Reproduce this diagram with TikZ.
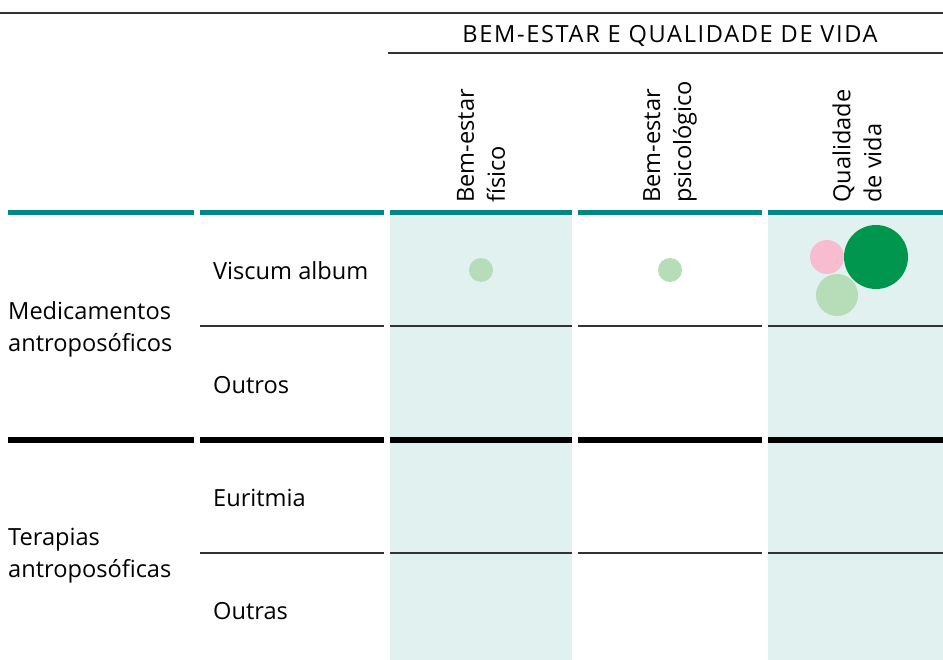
\documentclass[tikz,border=0pt]{standalone}
\usepackage{fontspec}
\setmainfont{Open Sans}
\newfontfamily\headfont[LetterSpace=7]{Open Sans}

\definecolor{rulegray}{RGB}{51,51,51}
\definecolor{tealrule}{RGB}{0,137,132}
\definecolor{cellbg}{RGB}{225,241,240}
\definecolor{dotlight}{RGB}{182,221,184}
\definecolor{dotdark}{RGB}{0,150,78}
\definecolor{dotpink}{RGB}{247,188,208}

\begin{document}
\begin{tikzpicture}[x=1pt, y=-1pt,
    rowtext/.style={anchor=west, inner sep=0pt, align=left, font=\fontsize{23.6}{32}\selectfont}, % text of the rows
    colhead/.style={rotate=90, anchor=west, inner sep=0pt, align=left, font=\fontsize{23.6}{31}\selectfont},
    thinrule/.style={draw=rulegray, line width=1.6pt},
    tealbar/.style={draw=tealrule, line width=5pt},
    blackbar/.style={draw=black, line width=5.5pt}
  ]
  \useasboundingbox (0,0) rectangle (943,660);

  % shaded columns
  \fill[cellbg] (390,216) rectangle (572,660);
  \fill[cellbg] (768,216) rectangle (943,660);

  % header
  \draw[thinrule] (0,13) -- (943,13);
  \node (main) at (670,36) {\headfont\fontsize{23.6}{28}\selectfont BEM-ESTAR E QUALIDADE DE VIDA};
  \draw[thinrule] (388,53) -- (943,53);

  \node[colhead] (fisico) at (481,203) {Bem-estar\\físico};
  \node[colhead] (psico) at (670,203) {Bem-estar\\psicológico};
  \node[colhead] (vida) at (857,203) {Qualidade\\de vida};

  % bars under the column heads
  \draw[tealbar] (8,213) -- (194,213);
  \draw[tealbar] (200,213) -- (384,213);
  \draw[tealbar] (390,213) -- (572,213);
  \draw[tealbar] (578,213) -- (762,213);
  \draw[tealbar] (768,213) -- (943,213);

  \draw[blackbar] (8,440) -- (194,440);
  \draw[blackbar] (200,440) -- (384,440);
  \draw[blackbar] (390,440) -- (572,440);
  \draw[blackbar] (578,440) -- (762,440);
  \draw[blackbar] (768,440) -- (943,440);

  % row separators
  \draw[thinrule] (200,326) -- (384,326);
  \draw[thinrule] (390,326) -- (572,326);
  \draw[thinrule] (578,326) -- (762,326);
  \draw[thinrule] (768,326) -- (943,326);
  \draw[thinrule] (200,553) -- (384,553);
  \draw[thinrule] (390,553) -- (572,553);
  \draw[thinrule] (578,553) -- (762,553);
  \draw[thinrule] (768,553) -- (943,553);

  % row labels
  \node[rowtext] (medic) at (8,329) {Medicamentos\\antroposóficos};
  \node[rowtext] (terap) at (8,556) {Terapias\\antroposóficas};
  \node[rowtext] (viscum) at (213,271) {Viscum album};
  \node[rowtext] (outros) at (213,385) {Outros};
  \node[rowtext] (euritmia) at (213,498) {Euritmia};
  \node[rowtext] (outras) at (213,611) {Outras};

  % dots
  \fill[dotlight] (481,270) circle (12);
  \fill[dotlight] (670,270) circle (12);
  \fill[dotpink] (827,257) circle (17);
  \fill[dotlight] (837,295) circle (21);
  \fill[dotdark] (876,257) circle (32);
\end{tikzpicture}
\end{document}
